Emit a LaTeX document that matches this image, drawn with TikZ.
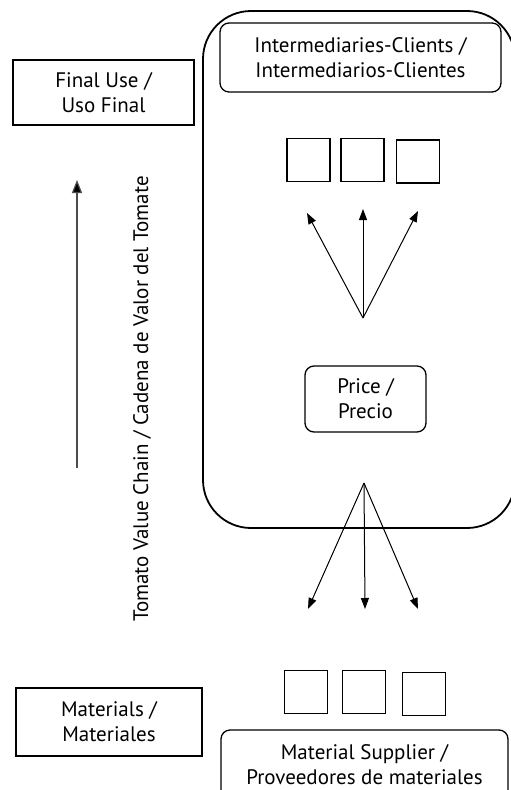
\documentclass[tikz,border=0pt]{standalone}
\usepackage{fontspec}
\setmainfont{PT Sans}
\usetikzlibrary{arrows.meta}
\begin{document}
\begin{tikzpicture}[x=1pt,y=-1pt,
  lbl/.style={font=\fontsize{21}{25}\selectfont, align=center, inner sep=0pt},
  box/.style={lbl, draw, line width=1.3pt},
  rbox/.style={box, rounded corners=9pt},
  sq/.style={draw, line width=1.6pt, minimum width=43pt, minimum height=43pt, inner sep=0pt},
  arr/.style={line width=1pt, -{Triangle[length=11pt,width=8pt]}}
]
\useasboundingbox (0,0) rectangle (511,790);
\clip (0,0) rectangle (511,790);
\fill[white] (0,0) rectangle (511,790);

% big panel
\node[draw, line width=1.8pt, rounded corners=48pt, minimum width=312pt, minimum height=517pt, inner sep=0pt] (panel) at (359,269.5) {};

\node[rbox, minimum width=281pt, minimum height=69pt] (inter) at (360.5,57.5) {Intermediaries-Clients /\\Intermediarios-Clientes};

\node[sq] (t1) at (308.5,160) {};
\node[sq] (t2) at (362.5,160) {};
\node[sq] (t3) at (418,161.5) {};

\coordinate (hubup) at (363,318);
\coordinate (u1) at (307,213);
\coordinate (u2) at (363,209);
\coordinate (u3) at (418,211);
\draw[arr] (hubup) -- (u1);
\draw[arr] (hubup) -- (u2);
\draw[arr] (hubup) -- (u3);

\node[rbox, minimum width=121pt, minimum height=66pt] (price) at (365.5,399) {Price /\\Precio};

\coordinate (hubdn) at (364,483);
\coordinate (d1) at (308,609);
\coordinate (d2) at (365,609);
\coordinate (d3) at (418,609);
\draw[arr] (hubdn) -- (d1);
\draw[arr] (hubdn) -- (d2);
\draw[arr] (hubdn) -- (d3);

\node[box, minimum width=181pt, minimum height=65pt] (final) at (103.5,92.5) {Final Use /\\Uso Final};

\coordinate (vs) at (77,468);
\coordinate (ve) at (77,180);
\draw[line width=1.2pt, draw=black!70, -{Triangle[length=13pt,width=10pt,fill=black]}] (vs) -- (ve);

\node[lbl, rotate=90] (chain) at (142,399) {Tomato Value Chain / Cadena de Valor del Tomate};

\node[box, minimum width=186pt, minimum height=68pt] (mat) at (109,722) {Materials /\\Materiales};

\node[sq] (b1) at (306,692) {};
\node[sq] (b2) at (364,692) {};
\node[sq] (b3) at (424,694) {};

\node[rbox, minimum width=287pt, minimum height=70pt] (supp) at (364.5,765) {Material Supplier /\\Proveedores de materiales};
\end{tikzpicture}
\end{document}
